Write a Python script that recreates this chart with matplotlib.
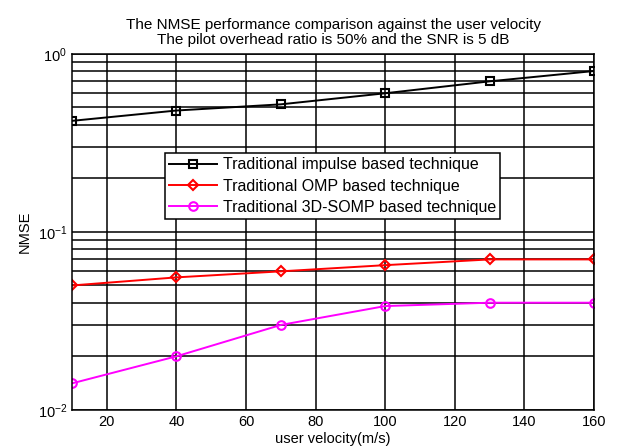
import numpy as np
import matplotlib
matplotlib.use("Agg")
import matplotlib.pyplot as plt

plt.rcParams['font.family'] = ['Liberation Sans', 'DejaVu Sans']

# data
velocity = [10, 40, 70, 100, 130, 160]
nmse_impulse = [0.42, 0.48, 0.52, 0.60, 0.70, 0.80]
nmse_omp = [0.050, 0.0555, 0.060, 0.065, 0.070, 0.070]
nmse_somp = [0.0141, 0.020, 0.030, 0.0383, 0.040, 0.040]
labels = ["Traditional impulse based technique",
          "Traditional OMP based technique",
          "Traditional 3D-SOMP based technique"]
x_ticks = [20, 40, 60, 80, 100, 120, 140, 160]

fig = plt.figure(figsize=(6.21, 4.48), dpi=100)
ax = fig.add_axes([0.116, 0.085, 0.8405, 0.795])

ax.semilogy(velocity, nmse_impulse, color='k', lw=1.4, marker='s', ms=6.2,
            mfc='none', mew=1.5, label=labels[0])
ax.semilogy(velocity, nmse_omp, color='r', lw=1.4, marker='D', ms=5.5,
            mfc='none', mew=1.5, label=labels[1])
ax.semilogy(velocity, nmse_somp, color='#ff00ff', lw=1.4, marker='o', ms=6.2,
            mfc='none', mew=1.5, label=labels[2])

ax.set_xlim(10, 160)
ax.set_ylim(1e-2, 1e0)
ax.set_xticks(x_ticks)
ax.grid(True, which='major', color='k', lw=1.1, ls='-')
ax.grid(True, which='minor', axis='y', color='k', lw=1.1, ls='-')
ax.set_axisbelow(True)
ax.tick_params(which='both', direction='in', labelsize=10.5, length=0)
ax.yaxis.set_minor_formatter(matplotlib.ticker.NullFormatter())
for s in ax.spines.values():
    s.set_linewidth(1.1)

ax.set_xlabel("user velocity(m/s)", fontsize=10.5, labelpad=2)
ax.set_ylabel("NMSE", fontsize=10.5)
ax.set_title("The NMSE performance comparison against the user velocity\n"
             "The pilot overhead ratio is 50% and the SNR is 5 dB",
             fontsize=11, pad=7, linespacing=1.05)

leg = ax.legend(loc='upper left', bbox_to_anchor=(0.178, 0.72), borderaxespad=0,
                fontsize=11.5, fancybox=False, framealpha=1, edgecolor='k',
                handlelength=3.0, handletextpad=0.4, labelspacing=0.38,
                borderpad=0.25)
leg.get_frame().set_linewidth(1.1)

fig.savefig("out.png", dpi=100)
